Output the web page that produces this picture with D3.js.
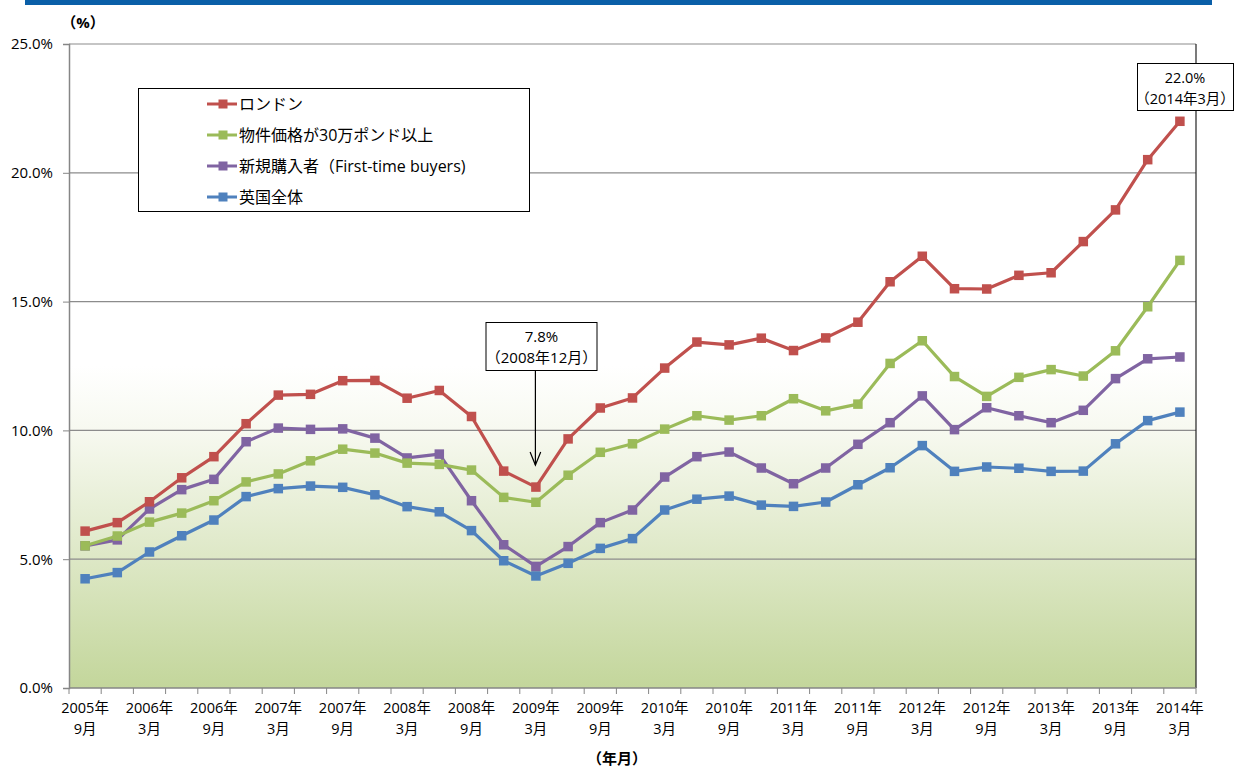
<!DOCTYPE html>
<html>
<head>
<meta charset="utf-8">
<script src="https://cdn.jsdelivr.net/npm/d3@7"></script>
<style>
  body { margin: 0; background: #fff; }
  svg text { font-family: "Open Sans", "Noto Sans CJK JP", sans-serif; fill: #000; }
</style>
</head>
<body>
<div id="chart"></div>
<script>
// quarterly categories, Sep 2005 .. Mar 2014
var years  = [2005,2005,2006,2006,2006,2006,2007,2007,2007,2007,2008,2008,2008,2008,2009,2009,2009,2009,2010,2010,2010,2010,2011,2011,2011,2011,2012,2012,2012,2012,2013,2013,2013,2013,2014]
var months = [9,12,3,6,9,12,3,6,9,12,3,6,9,12,3,6,9,12,3,6,9,12,3,6,9,12,3,6,9,12,3,6,9,12,3]

var london  = [6.09,6.42,7.23,8.16,8.98,10.26,11.37,11.40,11.93,11.94,11.25,11.55,10.54,8.42,7.8,9.67,10.87,11.26,12.42,13.43,13.32,13.58,13.1,13.59,14.2,15.77,16.76,15.5,15.49,16.02,16.12,17.33,18.56,20.51,22.0]
var over300 = [5.52,5.9,6.44,6.79,7.27,8.0,8.31,8.82,9.27,9.12,8.73,8.68,8.46,7.4,7.21,8.26,9.15,9.48,10.05,10.57,10.4,10.57,11.23,10.76,11.02,12.6,13.48,12.09,11.32,12.06,12.36,12.11,13.09,14.8,16.6]
var ftb     = [5.52,5.75,6.95,7.7,8.1,9.56,10.09,10.04,10.06,9.7,8.93,9.08,7.27,5.56,4.72,5.49,6.42,6.91,8.19,8.98,9.16,8.54,7.93,8.54,9.46,10.3,11.34,10.03,10.88,10.57,10.3,10.78,12.01,12.78,12.85]
var ukAll   = [4.24,4.48,5.28,5.91,6.52,7.43,7.74,7.84,7.79,7.5,7.04,6.84,6.11,4.94,4.35,4.84,5.42,5.8,6.91,7.33,7.45,7.1,7.05,7.22,7.89,8.55,9.41,8.41,8.58,8.53,8.41,8.42,9.48,10.38,10.71]

var seriesNames = ["ロンドン", "物件価格が30万ポンド以上", "新規購入者（First-time buyers)", "英国全体"]
var seriesColors = ["#c0504d", "#9bbb59", "#8064a2", "#4f81bd"]
var yTicks = [0, 5, 10, 15, 20, 25]

var width = 1234, height = 769;
var plot = { left: 69, right: 1196, top: 44, bottom: 688 };

var svg = d3.select("#chart").append("svg")
  .attr("width", width)
  .attr("height", height);

// blue rule across the top
svg.append("rect")
  .attr("x", 25).attr("y", 0)
  .attr("width", 1187).attr("height", 5)
  .attr("fill", "#0a5fa8");

var x = d3.scaleBand()
  .domain(d3.range(years.length))
  .range([plot.left, plot.right])
  .paddingInner(0).paddingOuter(0);

var y = d3.scaleLinear()
  .domain([0, 25])
  .range([plot.bottom, plot.top]);

function cx(i) { return x(i) + x.bandwidth() / 2; }

// plot background gradient
var defs = svg.append("defs");
var grad = defs.append("linearGradient")
  .attr("id", "bg").attr("x1", 0).attr("y1", 0).attr("x2", 0).attr("y2", 1);
grad.append("stop").attr("offset", 0).attr("stop-color", "#ffffff");
grad.append("stop").attr("offset", 0.5).attr("stop-color", "#ffffff");
grad.append("stop").attr("offset", 0.6).attr("stop-color", "#f7f9f0");
grad.append("stop").attr("offset", 1).attr("stop-color", "#c3d69b");

svg.append("rect")
  .attr("x", plot.left).attr("y", plot.top)
  .attr("width", plot.right - plot.left)
  .attr("height", plot.bottom - plot.top)
  .attr("fill", "url(#bg)");

// gridlines
svg.append("g")
  .selectAll("line")
  .data(yTicks.slice(1))
  .enter()
  .append("line")
    .attr("x1", plot.left).attr("x2", plot.right)
    .attr("y1", function(d) { return y(d); })
    .attr("y2", function(d) { return y(d); })
    .attr("stroke", "#8c8c8c")
    .attr("stroke-width", 1.2);

// right border
svg.append("line")
  .attr("x1", plot.right).attr("x2", plot.right)
  .attr("y1", plot.top).attr("y2", plot.bottom)
  .attr("stroke", "#222").attr("stroke-width", 1.2);

// y axis
var yAxis = svg.append("g")
  .attr("transform", "translate(" + plot.left + ",0)")
  .call(d3.axisLeft(y).tickValues(yTicks).tickSize(6).tickPadding(10)
    .tickFormat(function(d) { return d.toFixed(1) + "%"; }));
yAxis.select(".domain").attr("stroke", "#868686").attr("stroke-width", 1.5);
yAxis.selectAll(".tick line").attr("stroke", "#868686");
yAxis.selectAll("text").style("font-size", "15px").attr("fill", "#000");

// x axis: ticks on category boundaries
var xg = svg.append("g");
xg.append("line")
  .attr("x1", plot.left).attr("x2", plot.right)
  .attr("y1", plot.bottom).attr("y2", plot.bottom)
  .attr("stroke", "#868686").attr("stroke-width", 1.5);
xg.selectAll("line.tk")
  .data(d3.range(years.length + 1))
  .enter()
  .append("line")
    .attr("class", "tk")
    .attr("x1", function(i) { return plot.left + i * x.bandwidth(); })
    .attr("x2", function(i) { return plot.left + i * x.bandwidth(); })
    .attr("y1", plot.bottom).attr("y2", plot.bottom + 6)
    .attr("stroke", "#868686");

var labelIdx = d3.range(0, years.length, 2);
var lbl = xg.selectAll("text.xl")
  .data(labelIdx)
  .enter()
  .append("text")
    .attr("class", "xl")
    .attr("text-anchor", "middle")
    .style("font-size", "14.5px");
lbl.append("tspan")
  .attr("x", function(i) { return cx(i); })
  .attr("y", 713)
  .text(function(i) { return years[i] + "年"; });
lbl.append("tspan")
  .attr("x", function(i) { return cx(i); })
  .attr("y", 734)
  .text(function(i) { return months[i] + "月"; });

// axis units
svg.append("text")
  .attr("x", 83).attr("y", 28)
  .attr("text-anchor", "middle")
  .style("font-size", "15px").style("font-weight", "bold")
  .text("（%）");
svg.append("text")
  .attr("x", 617).attr("y", 764)
  .attr("text-anchor", "middle")
  .style("font-size", "15px").style("font-weight", "bold")
  .text("（年月）");

// series
var allSeries = [london, over300, ftb, ukAll];
var line = d3.line()
  .x(function(d, i) { return cx(i); })
  .y(function(d) { return y(d); });

var sg = svg.selectAll("g.series")
  .data(allSeries)
  .enter()
  .append("g")
    .attr("class", "series");

// draw bottom-up so London sits on top
sg.sort(function(a, b) { return allSeries.indexOf(b) - allSeries.indexOf(a); });

sg.append("path")
  .attr("d", function(d) { return line(d); })
  .attr("fill", "none")
  .attr("stroke", function(d) { return seriesColors[allSeries.indexOf(d)]; })
  .attr("stroke-width", 3.2)
  .attr("stroke-linejoin", "round");

var ms = 9.5;
sg.selectAll("rect")
  .data(function(d) { return d.map(function(v, i) { return { v: v, i: i, s: allSeries.indexOf(d) }; }); })
  .enter()
  .append("rect")
    .attr("x", function(d) { return cx(d.i) - ms / 2; })
    .attr("y", function(d) { return y(d.v) - ms / 2; })
    .attr("width", ms).attr("height", ms)
    .attr("fill", function(d) { return seriesColors[d.s]; });

// legend
var legend = svg.append("g");
legend.append("rect")
  .attr("x", 138.5).attr("y", 88.5)
  .attr("width", 391).attr("height", 123)
  .attr("fill", "#fff").attr("stroke", "#000").attr("stroke-width", 1);

var le = legend.selectAll("g.le")
  .data(seriesNames)
  .enter()
  .append("g")
    .attr("class", "le")
    .attr("transform", function(d, i) { return "translate(0," + (104 + i * 31) + ")"; });
le.append("line")
  .attr("x1", 207).attr("x2", 237)
  .attr("stroke", function(d, i) { return seriesColors[i]; })
  .attr("stroke-width", 3);
le.append("rect")
  .attr("x", 223 - 4.5).attr("y", -4.5)
  .attr("width", 9).attr("height", 9)
  .attr("fill", function(d, i) { return seriesColors[i]; });
le.append("text")
  .attr("x", 239).attr("y", 5.5)
  .style("font-size", "16px")
  .text(function(d) { return d; });

// callouts
function callout(cxp, left, top, w, h, lines, fs) {
  var g = svg.append("g");
  g.append("rect")
    .attr("x", left).attr("y", top)
    .attr("width", w).attr("height", h)
    .attr("fill", "#fff").attr("stroke", "#000").attr("stroke-width", 1);
  g.selectAll("text")
    .data(lines)
    .enter()
    .append("text")
      .attr("x", cxp)
      .attr("y", function(d, i) { return top + 19 + i * 21; })
      .attr("text-anchor", "middle")
      .style("font-size", fs + "px")
      .text(function(d) { return d; });
}

var minIdx = 14, lastIdx = years.length - 1;
callout(541.5, 486, 322.5, 111, 48, [london[minIdx].toFixed(1) + "%", "（2008年12月）"], 15);
callout(1185, 1137.5, 63.5, 96, 47, [london[lastIdx].toFixed(1) + "%", "（2014年3月）"], 14.5);

// arrow to the trough
var ax = cx(minIdx) - 0.5;
var tip = y(london[minIdx]) - 22;
svg.append("line")
  .attr("x1", ax).attr("x2", ax)
  .attr("y1", 371).attr("y2", tip)
  .attr("stroke", "#000").attr("stroke-width", 1.2);
svg.append("path")
  .attr("d", "M" + (ax - 5.3) + "," + (tip - 13) + " L" + ax + "," + tip + " L" + (ax + 5.3) + "," + (tip - 13))
  .attr("fill", "none").attr("stroke", "#000").attr("stroke-width", 1.2);
</script>
</body>
</html>
